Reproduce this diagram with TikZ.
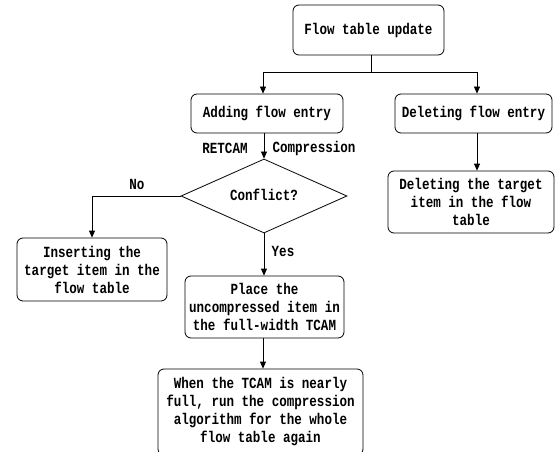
\documentclass[tikz,border=0pt]{standalone}
\usepackage{fontspec}
\setmonofont{Liberation Mono}[FakeStretch=0.81]
\usetikzlibrary{arrows.meta,shapes.geometric,calc}
\begin{document}
\begin{tikzpicture}[x=1pt,y=-1pt,
  every node/.style={font=\ttfamily\bfseries\fontsize{15.5}{18}\selectfont, inner sep=0pt},
  box/.style={draw, line width=0.8pt, rounded corners=6pt, align=center},
  choice/.style={draw, line width=0.8pt, diamond, aspect=2.25},
  link/.style={line width=0.8pt, -{Triangle[length=7pt,width=6pt]}},
  plain/.style={line width=0.8pt}]
\useasboundingbox (0,0) rectangle (555,452);

% process boxes
\node[box, minimum width=151pt, minimum height=50pt] (top) at (368.5,30) {Flow table update};
\node[box, minimum width=152pt, minimum height=39pt] (add) at (267,113.5) {Adding flow entry};
\node[box, minimum width=157pt, minimum height=39pt] (del) at (473.5,113.5) {Deleting flow entry};
\node[choice, minimum width=166pt, minimum height=74pt] (dia) at (264,196) {};
\node at (264,195) {Conflict?};
\node[box, minimum width=150pt, minimum height=63pt] (ins) at (92,269.5) {Inserting the\\target item in the\\flow table};
\node[box, minimum width=159pt, minimum height=62pt] (place) at (264.5,307) {Place the\\uncompressed item in\\the full-width TCAM};
\node[box, minimum width=205pt, minimum height=86pt] (when) at (260.5,412) {When the TCAM is nearly\\full, run the compression\\algorithm for the whole\\flow table again};
\node[box, minimum width=166pt, minimum height=62pt] (delt) at (471,202) {Deleting the target\\item in the flow\\table};

% branch labels
\node (ret) at (225,148) {RETCAM};
\node (comp) at (314,148) {Compression};
\node (no) at (137,184) {No};
\node (yes) at (283,251) {Yes};

% connectors
\coordinate (j) at (371,72);
\draw[plain] (top.south -| j) -- (j);
\draw[link] (j) -| ([xshift=-4pt]add.north);
\draw[link] (j) -| ([xshift=3.5pt]del.north);
\draw[link] (add.south -| dia.north) -- (dia.north);
\draw[link] (dia.west) -| (ins.north);
\draw[link] (dia.south) -- (place.north -| dia.south);
\draw[link] ([xshift=-1.5pt]place.south) -- ([xshift=-1.5pt]place.south |- when.north);
\draw[link] ([xshift=3.5pt]del.south) -- ([xshift=3.5pt]del.south |- delt.north);
\end{tikzpicture}
\end{document}
